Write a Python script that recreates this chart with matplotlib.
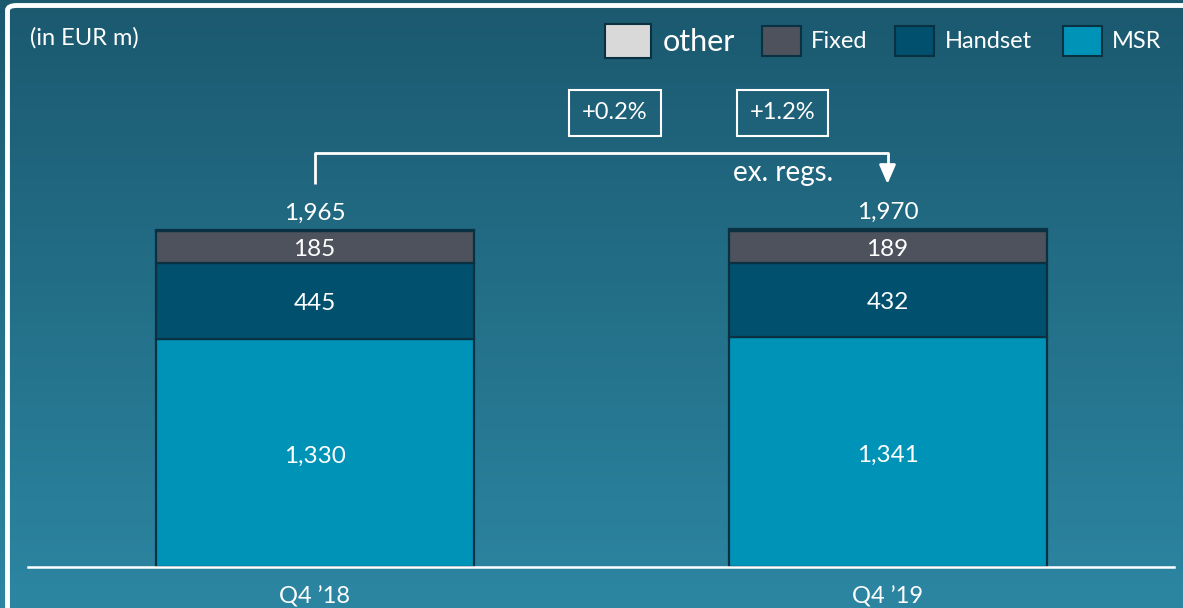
import numpy as np
import matplotlib
matplotlib.use('Agg')
import matplotlib.pyplot as plt
from matplotlib.patches import Rectangle, FancyBboxPatch

plt.rcParams['font.family'] = ['Lato', 'DejaVu Sans']

# data
quarters = ['Q4 \u201918', 'Q4 \u201919']
msr      = [1330, 1341]
handset  = [445, 432]
fixed    = [185, 189]
other    = [5, 8]
totals   = [1965, 1970]
growth   = ['+0.2%', '+1.2%']

series = [('MSR', msr, '#0093b8'),
          ('Handset', handset, '#00506e'),
          ('Fixed', fixed, '#4d525c'),
          ('other', other, '#d9d9d9')]

W, H = 1183, 608
fig = plt.figure(figsize=(W / 100, H / 100), dpi=100)

# gradient background
bg = fig.add_axes([0, 0, 1, 1])
top_col = np.array([0x1b, 0x59, 0x6f]) / 255
bot_col = np.array([0x2c, 0x86, 0xa2]) / 255
t = np.linspace(0, 1, 256)[:, None]
grad = top_col[None, :] * (1 - t) + bot_col[None, :] * t
bg.imshow(grad[:, None, :], aspect='auto', extent=[0, 1, 0, 1])
bg.set_xlim(0, 1)
bg.set_ylim(0, 1)
bg.axis('off')

# white frame (rounded corner top left)
frame = FancyBboxPatch((7.5 / W, -0.2), 1.2, 1.2 - 5.5 / H,
                       boxstyle='round,pad=0,rounding_size=0.008',
                       transform=fig.transFigure, fill=False,
                       edgecolor='white', linewidth=3.5)
fig.patches.append(frame)

# main axes
ax = fig.add_axes([28 / W, (H - 567) / H, 1146 / W, 567 / H])
ax.patch.set_alpha(0)
px = 0.1715  # pixels per unit
ax.set_xlim(-0.5, 1.5)
ax.set_ylim(0, 567 / px)
ax.axis('off')

# small nudge so the digits sit centred like in the source
dy = -3 / px

x = np.arange(len(quarters))
width = 318 / 573
bottom = np.zeros(len(quarters))
for name, vals, col in series:
    ax.bar(x, vals, width, bottom=bottom, color=col,
           edgecolor='#0a3142', linewidth=1.6, zorder=2)
    if name != 'other':
        for xi, b, v in zip(x, bottom, vals):
            ax.text(xi, b + v / 2 + dy, f'{v:,}', ha='center', va='center',
                    color='white', fontsize=17.5, zorder=3)
    bottom += np.array(vals)

for xi, tot in zip(x, totals):
    ax.text(xi, tot + 110 + dy * 0.7, f'{tot:,}', ha='center', va='center',
            color='white', fontsize=17.5)

# baseline
ax.axhline(0, color='white', linewidth=1.8, zorder=4, clip_on=False)

# category labels
for xi, q in zip(x, quarters):
    ax.text(xi, -30 / px, q, ha='center', va='center',
            color='white', fontsize=17)

# bracket with arrow
y_top = (567 - 153) / px
y_end = (567 - 184) / px
ax.plot([0, 0, 1, 1], [y_end, y_top, y_top, y_end + 80],
        color='white', linewidth=2, solid_capstyle='butt')
ax.annotate('', xy=(1, y_end), xytext=(1, y_end + 100),
            arrowprops=dict(arrowstyle='-|>,head_width=0.5,head_length=1.15',
                            color='white', lw=2, shrinkA=0, shrinkB=0))
ax.text(0.817, (567 - 173) / px, 'ex. regs.', ha='center', va='center',
        color='white', fontsize=20)

# growth boxes
for gx, g in zip([0.524, 0.817], growth):
    ax.text(gx, (567 - 113) / px, g, ha='center', va='center',
            color='white', fontsize=17,
            bbox=dict(boxstyle='square,pad=0.55', facecolor='none',
                      edgecolor='white', linewidth=1.5))

# unit label
fig.text(30 / W, 1 - 38 / H, '(in EUR m)', ha='left', va='center',
         color='white', fontsize=17)

# legend (manual)
leg = [('other', '#d9d9d9', 605, 46, 34, 663, 22),
       ('Fixed', '#4d525c', 762, 39, 30, 811, 17),
       ('Handset', '#00506e', 895, 39, 30, 945, 17),
       ('MSR', '#0093b8', 1063, 39, 30, 1112, 17)]
yc = 41
for lab, col, lx, lw_, lh, tx, fs in leg:
    fig.patches.append(Rectangle((lx / W, 1 - (yc + lh / 2) / H), lw_ / W, lh / H,
                                 transform=fig.transFigure, facecolor=col,
                                 edgecolor='#0a3142', linewidth=1.5))
    fig.text(tx / W, 1 - (yc + 1) / H, lab, ha='left', va='center',
             color='white', fontsize=fs)

fig.savefig('out.png', dpi=100)
